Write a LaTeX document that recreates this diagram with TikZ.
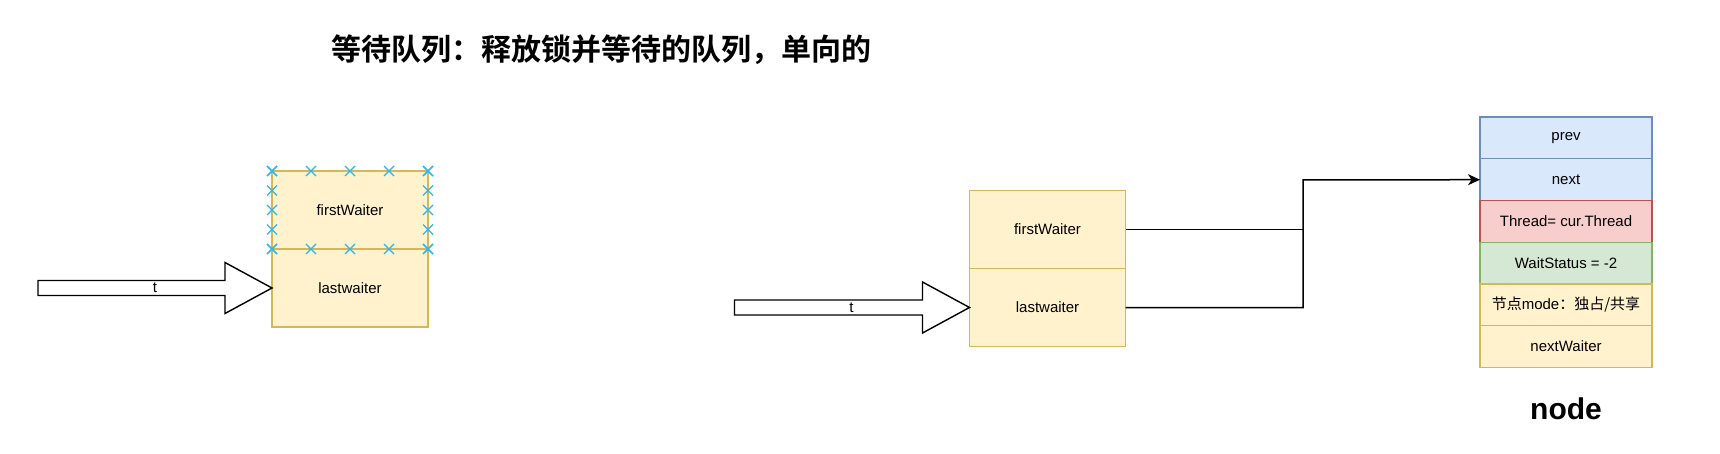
\documentclass[tikz,border=0pt]{standalone}
\usepackage{fontspec}
\setmainfont{Liberation Sans}
\newfontfamily\cjk{Noto Sans CJK SC}[BoldFont={Noto Sans CJK SC Bold}]
\usetikzlibrary{arrows,arrows.meta,positioning,calc}

\definecolor{yfill}{HTML}{FFF2CC}
\definecolor{yline}{HTML}{D6B656}
\definecolor{bfill}{HTML}{DAE8FC}
\definecolor{bline}{HTML}{6C8EBF}
\definecolor{rfill}{HTML}{F8CECC}
\definecolor{rline}{HTML}{B85450}
\definecolor{gfill}{HTML}{D5E8D4}
\definecolor{gline}{HTML}{82B366}
\definecolor{markblue}{HTML}{29B6F2}

\tikzset{
  waitbox/.style={draw=yline,fill=yfill,line width=1.3pt,
    minimum width=156pt,minimum height=78pt,inner sep=0pt,outer sep=0pt,
    font=\fontsize{15}{18}\selectfont},
  field/.style 2 args={draw=#1,fill=#2,line width=1.3pt,
    minimum width=172pt,minimum height=41.7pt,inner sep=0pt,outer sep=0pt,
    font=\fontsize{15}{18}\selectfont},
  fatarrow/.style={draw=black,fill=white,line width=1.4pt,line join=miter},
  xmark/.style={draw=markblue,line width=1.4pt}
}

\newcommand{\xmk}[1]{\draw[xmark] (#1) +(-5,-5) -- +(5,5) +(-5,5) -- +(5,-5);}

\begin{document}
\begin{tikzpicture}[x=1pt,y=-1pt
  ,>={Stealth[length=12pt,width=11pt,inset=3.5pt]}
  ,line width=1.5pt]
  \useasboundingbox (0,0) rectangle (1720,454);

  % title
  \node[font=\cjk\bfseries\fontsize{30}{34}\selectfont] (title) at (601,50)
    {等待队列：释放锁并等待的队列，单向的};

  % left queue, firstWaiter selected
  \node[waitbox] (fw) at (350,210) {firstWaiter};
  \node[waitbox,below=0pt of fw] (lw) {lastwaiter};
  \foreach \i in {0,...,4}{
    \xmk{$(fw.north west)!\i/4!(fw.north east)$}
    \xmk{$(fw.south west)!\i/4!(fw.south east)$}
    \xmk{$(fw.north west)!\i/4!(fw.south west)$}
    \xmk{$(fw.north east)!\i/4!(fw.south east)$}
  }
  \draw[fatarrow] (lw.west) -- ++(-47,-25.5) -- ++(0,18) -- ++(-187,0)
    -- ++(0,15) -- ++(187,0) -- ++(0,18) -- cycle;
  \node[font=\fontsize{15}{18}\selectfont] (t1) at ($(lw.west)+(-117,0)$) {t};

  % middle queue
  \node[waitbox] (fw2) at (1047.5,229.5) {firstWaiter};
  \node[waitbox,below=0pt of fw2] (lw2) {lastwaiter};
  \draw[fatarrow] (lw2.west) -- ++(-47,-25.5) -- ++(0,18) -- ++(-188,0)
    -- ++(0,15) -- ++(188,0) -- ++(0,18) -- cycle;
  \node[font=\fontsize{15}{18}\selectfont] (t2) at ($(lw2.west)+(-118,0)$) {t};

  % node fields
  \node[field={bline}{bfill}] (prev) at (1566,138) {prev};
  \node[field={bline}{bfill},below=0pt of prev] (nx) {next};
  \node[field={rline}{rfill},below=0pt of nx] (thr) {Thread= cur.Thread};
  \node[field={gline}{gfill},below=0pt of thr] (ws) {WaitStatus = -2};
  \node[field={yline}{yfill},below=0pt of ws] (md) {{\cjk 节点}mode{\cjk ：独占/共享}};
  \node[field={yline}{yfill},below=0pt of md] (nw) {nextWaiter};
  \node[font=\bfseries\fontsize{30}{34}\selectfont,below=26pt of nw] (lbl) {node};

  % links
  \coordinate (jn) at (1303,180);
  \draw (fw2.east) -- (fw2.east -| jn);
  \draw[->] (lw2.east) -| (jn) -- (nx.west);
\end{tikzpicture}
\end{document}
